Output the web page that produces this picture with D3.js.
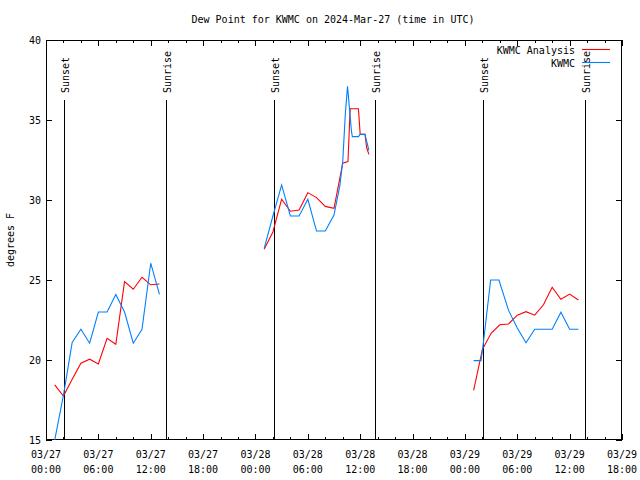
<!DOCTYPE html>
<html><head><meta charset="utf-8">
<script src="https://cdn.jsdelivr.net/npm/d3@7"></script>
<style>
body{margin:0;background:#fff}
svg text{font-family:"DejaVu Sans Mono",monospace;font-size:10px;fill:#000}
</style>
</head><body>
<svg id="chart" width="640" height="480"></svg>
<script>
// ---------- data ----------
const titleText = "Dew Point for KWMC on 2024-Mar-27 (time in UTC)";
const yAxisLabel = "degrees F";
const yTickValues = [15, 20, 25, 30, 35, 40];
const xTickHours = [0, 6, 12, 18, 24, 30, 36, 42, 48, 54, 60, 66];
const xTickDates = ["03/27","03/27","03/27","03/27","03/28","03/28","03/28","03/28","03/29","03/29","03/29","03/29"];
const xTickTimes = ["00:00","06:00","12:00","18:00","00:00","06:00","12:00","18:00","00:00","06:00","12:00","18:00"];
const xMinorHours = d3.range(0, 67, 2);
const sunsetHours = [2.1, 26.12, 50.13];
const sunriseHours = [13.77, 37.74, 61.72];
const seriesNames = ["KWMC Analysis", "KWMC"];
const seriesColors = ["#ff0000", "#0080ff"];

// hours since 2024-03-27 00:00 UTC ; null = gap
const analysisHours = [1,2,3,4,5,6,7,8,9,10,11,12,13, 19,
  25,26,27,28,29,30,31,32,33,34,34.6,34.85,35.8,36.0,36.55,36.75,37.0, 43,
  49,50,51,52,53,54,55,56,57,58,59,60,61];
const analysisValues = [18.45,17.75,18.8,19.8,20.05,19.75,21.35,20.98,24.9,24.42,25.17,24.7,24.75, null,
  26.92,28.0,30.05,29.3,29.37,30.46,30.15,29.6,29.48,32.3,32.4,35.7,35.7,34.1,34.1,33.25,32.85, null,
  18.1,20.65,21.67,22.2,22.25,22.8,23.02,22.8,23.45,24.55,23.8,24.12,23.75];

const kwmcHours = [1,2,3,4,5,6,7,8,9,10,11,12,13, 19,
  25,26,27,28,29,30,31,32,33,33.67,34,34.3,34.55,35.0,35.1,35.8,36.0,36.55,37.0, 43,
  49,49.85,50.12,50.95,51.9,53,54,55,56,57,58,59,60,61];
const kwmcValues = [15.0,17.8,21.1,21.92,21.05,23.0,23.0,24.1,23.0,21.05,21.92,26.05,24.1, null,
  26.98,29.0,30.94,29.0,29.0,30.04,28.06,28.06,29.06,30.9,32.4,35.4,37.1,34.3,33.96,33.96,34.1,34.1,33.1, null,
  19.96,19.96,21.1,25.0,25.0,23.1,22.0,21.08,21.92,21.92,21.92,22.98,21.92,21.92];

// ---------- layout ----------
const svg = d3.select("#chart");
const L = 46, R = 622, T = 40, B = 440;
const x = d3.scaleLinear().domain([0, 66]).range([L, R]);
const y = d3.scaleLinear().domain([15, 40]).range([B, T]);

svg.append("rect").attr("width", 640).attr("height", 480).attr("fill", "#fff");

svg.append("defs").append("clipPath").attr("id", "clip")
  .append("rect").attr("x", L).attr("y", T).attr("width", R - L).attr("height", B - T);

// title
svg.append("text").attr("x", 333).attr("y", 23).attr("text-anchor", "middle").text(titleText);

// y label
svg.append("text").attr("transform", "translate(14,240) rotate(-90)")
  .attr("text-anchor", "middle").text(yAxisLabel);

// axes via d3 (ticks inward)
const gAxes = svg.append("g").attr("shape-rendering", "crispEdges");
function styleAxis(g) {
  g.select(".domain").remove();
  g.selectAll("line").attr("stroke", "#000");
  g.selectAll("text").remove();
}
gAxes.append("g").attr("transform", `translate(0,${B})`)
  .call(d3.axisBottom(x).tickValues(xMinorHours).tickSize(-3)).call(styleAxis);
gAxes.append("g").attr("transform", `translate(0,${B})`)
  .call(d3.axisBottom(x).tickValues(xTickHours).tickSize(-6)).call(styleAxis);
gAxes.append("g").attr("transform", `translate(0,${T})`)
  .call(d3.axisTop(x).tickValues(xMinorHours).tickSize(-3)).call(styleAxis);
gAxes.append("g").attr("transform", `translate(0,${T})`)
  .call(d3.axisTop(x).tickValues(xTickHours).tickSize(-6)).call(styleAxis);
gAxes.append("g").attr("transform", `translate(${L},0)`)
  .call(d3.axisLeft(y).tickValues(yTickValues).tickSize(-6)).call(styleAxis);
gAxes.append("g").attr("transform", `translate(${R},0)`)
  .call(d3.axisRight(y).tickValues(yTickValues).tickSize(-6)).call(styleAxis);

// tick labels
svg.append("g").selectAll("text").data(yTickValues).join("text")
  .attr("x", L - 5).attr("y", d => y(d) + 4).attr("text-anchor", "end").text(d => d);
const xl = svg.append("g").selectAll("text").data(xTickHours).join("text")
  .attr("text-anchor", "middle");
xl.append("tspan").attr("x", d => x(d)).attr("y", 458).text((d, i) => xTickDates[i]);
xl.append("tspan").attr("x", d => x(d)).attr("y", 473).text((d, i) => xTickTimes[i]);

// border
svg.append("rect").attr("x", L + 0.5).attr("y", T + 0.5).attr("width", R - L - 1).attr("height", B - T - 1)
  .attr("fill", "none").attr("stroke", "#000").attr("shape-rendering", "crispEdges");

// sun lines
const sun = sunsetHours.map(h => ({h, label: "Sunset"}))
  .concat(sunriseHours.map(h => ({h, label: "Sunrise"})));
svg.append("g").attr("shape-rendering", "crispEdges").selectAll("line").data(sun).join("line")
  .attr("x1", d => Math.round(x(d.h)) + 0.5).attr("x2", d => Math.round(x(d.h)) + 0.5)
  .attr("y1", 100).attr("y2", B).attr("stroke", "#000");
svg.append("g").selectAll("text").data(sun).join("text")
  .attr("transform", d => `translate(${Math.round(x(d.h)) + 4.5},93) rotate(-90)`)
  .attr("text-anchor", "start").text(d => d.label);

// series
const line = d3.line().defined(d => d.v != null).x(d => x(d.h)).y(d => y(d.v));
const series = [
  analysisHours.map((h, i) => ({h, v: analysisValues[i]})),
  kwmcHours.map((h, i) => ({h, v: kwmcValues[i]}))
];
const gS = svg.append("g").attr("clip-path", "url(#clip)");
series.forEach((s, i) => {
  gS.append("path").attr("d", line(s)).attr("fill", "none")
    .attr("stroke", seriesColors[i]).attr("stroke-width", 1.1);
});

// legend
seriesNames.forEach((n, i) => {
  const ly = 50 + i * 13;
  svg.append("text").attr("x", 575).attr("y", ly + 3.5).attr("text-anchor", "end").text(n);
  svg.append("line").attr("x1", 582).attr("x2", 610).attr("y1", ly - 0.5).attr("y2", ly - 0.5)
    .attr("stroke", seriesColors[i]).attr("stroke-width", 1.1);
});
</script>
</body></html>
